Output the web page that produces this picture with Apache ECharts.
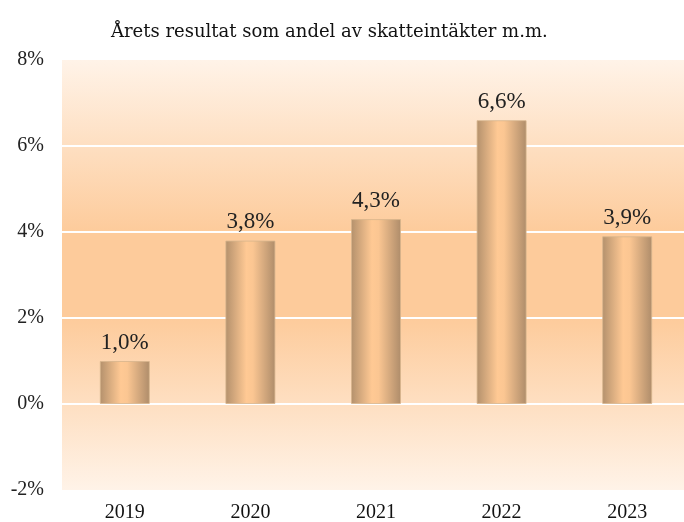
<!DOCTYPE html>
<html>
<head>
<meta charset="utf-8">
<script src="https://cdn.jsdelivr.net/npm/echarts@6/dist/echarts.min.js"></script>
<style>
  html, body { margin: 0; padding: 0; background: #ffffff; }
  #chart { width: 684px; height: 522px; }
</style>
</head>
<body>
<div id="chart"></div>
<script>
// Årets resultat i procent av skatteintäkter m.m.
const years = ['2019', '2020', '2021', '2022', '2023'];
const resultShare = [1.0, 3.8, 4.3, 6.6, 3.9];
const yMin = -2;
const yMax = 8;
const yStep = 2;

const serif = 'Liberation Serif';
const titleSerif = 'DejaVu Serif';

const chart = echarts.init(document.getElementById('chart'));

chart.setOption({
  animation: false,
  title: {
    text: 'Årets resultat som andel av skatteintäkter m.m.',
    left: 106,
    top: 18,
    textStyle: { fontFamily: titleSerif, fontSize: 18, fontWeight: 'normal', color: '#111' }
  },
  grid: {
    left: 62,
    width: 628,
    top: 60,
    bottom: 32,
    outerBoundsMode: 'none',
    show: true,
    borderWidth: 0,
    backgroundColor: {
      type: 'linear', x: 0, y: 0, x2: 0, y2: 1,
      colorStops: [
        { offset: 0, color: '#FFF3E8' },
        { offset: 0.4, color: '#FDCB9B' },
        { offset: 0.6, color: '#FDCB9B' },
        { offset: 1, color: '#FFF3E8' }
      ]
    }
  },
  xAxis: {
    type: 'category',
    data: years,
    axisLine: { show: false },
    axisTick: { show: false },
    axisLabel: { fontFamily: serif, fontSize: 20, color: '#111', margin: 13 }
  },
  yAxis: {
    type: 'value',
    min: yMin,
    max: yMax,
    interval: yStep,
    axisLine: { show: false },
    axisTick: { show: false },
    axisLabel: {
      fontFamily: serif, fontSize: 20, color: '#222', margin: 18,
      formatter: v => v + '%'
    },
    splitLine: {
      lineStyle: {
        color: ['rgba(255,255,255,0)', '#ffffff', '#ffffff', '#ffffff', '#ffffff', 'rgba(255,255,255,0)'],
        width: 2
      }
    }
  },
  series: [{
    type: 'bar',
    data: resultShare,
    barWidth: 50,
    itemStyle: {
      color: {
        type: 'linear', x: 0, y: 0, x2: 1, y2: 0,
        colorStops: [
          { offset: 0, color: '#B3906C' },
          { offset: 0.42, color: '#FFC994' },
          { offset: 0.55, color: '#FBC692' },
          { offset: 1, color: '#AE8C6A' }
        ]
      },
      borderColor: 'rgba(215,180,140,0.8)',
      borderWidth: 1
    },
    label: {
      show: true,
      position: 'top',
      distance: 7,
      fontFamily: serif,
      fontSize: 23,
      color: '#222',
      formatter: p => p.value.toFixed(1).replace('.', ',') + '%'
    }
  }]
});
</script>
</body>
</html>
